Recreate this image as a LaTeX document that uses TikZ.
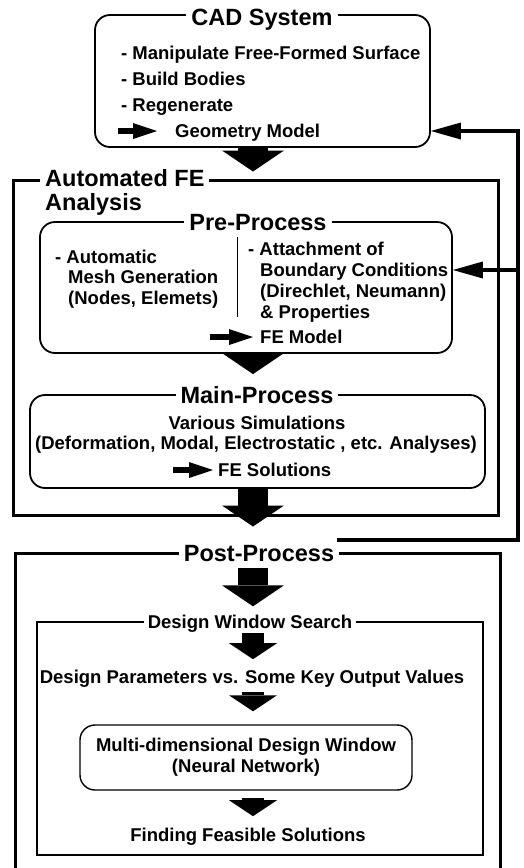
\documentclass[tikz,border=0pt]{standalone}
\usepackage{fontspec}
\setmainfont{Liberation Sans}
\usetikzlibrary{arrows.meta}

\tikzset{
  txt/.style={font=\bfseries\fontsize{18.5}{22}\selectfont, inner sep=0pt, text height=13.2pt, text depth=0pt},
  ttl/.style={font=\bfseries\fontsize{23.5}{28}\selectfont, inner xsep=5pt, inner ysep=0pt, text height=16.8pt, text depth=0pt},
  roundbox/.style={draw, line width=1.8pt, rounded corners=15pt},
  thickbox/.style={draw, line width=3pt},
  thinbox/.style={draw, line width=1.4pt},
  bigarrow/.style={line width=30pt, -{Triangle[length=21pt, width=62pt, line width=0pt]}},
  smallblock/.style={line width=22pt, -{Triangle[length=16pt, width=48pt, line width=0pt]}},
  inarrow/.style={line width=6pt, -{Triangle[length=24pt, width=16pt, line width=0pt]}},
  fbarrow/.style={line width=4.5pt, -{Triangle[length=30pt, width=17pt, line width=0pt]}},
}

\begin{document}
\begin{tikzpicture}[x=1pt,y=-1pt]
  \useasboundingbox (0,0) rectangle (524,868);
  \coordinate (col) at (253,0); % column of the block arrows

  % CAD system
  \node[roundbox, minimum width=335pt, minimum height=132pt] (cad) at (262.5,81) {};
  \node[ttl, fill=white] (cadtitle) at (262,17) {CAD System};
  \foreach \t [count=\i] in {Manipulate Free-Formed Surface, Build Bodies, Regenerate}
    \node[txt, anchor=west] (cad\i) at (121, 27+26*\i) {- \t};
  \node[txt, anchor=west] (geo) at (175,131) {Geometry Model};
  \draw[inarrow] ([xshift=-57pt]geo.west) -- ([xshift=-18pt]geo.west);

  % Automated FE analysis
  \node[thickbox, minimum width=485pt, minimum height=335pt] (fe) at (255.5,347.5) {};
  \node[ttl, fill=white, anchor=west] (fetitle) at (40,178) {Automated FE};
  \node[ttl, anchor=west, inner xsep=0pt] (fetitle2) at (45,202) {Analysis};

  % Pre-process
  \node[roundbox, minimum width=412pt, minimum height=131pt] (pre) at (246,287.5) {};
  \node[ttl, fill=white] (pretitle) at (258,222) {Pre-Process};
  \foreach \t/\x [count=\i] in {- Automatic/55, Mesh Generation/68, {(Nodes, Elemets)}/68}
    \node[txt, anchor=west] (mesh\i) at (\x, 236+20.5*\i) {\t};
  \foreach \t/\x [count=\i] in {- Attachment of/248, Boundary Conditions/260, {(Direchlet, Neumann)}/260, \& Properties/260}
    \node[txt, anchor=west] (bc\i) at (\x, 228+21*\i) {\t};
  \draw[line width=0.8pt] (237,237) -- (237,317); % divider
  \node[txt, anchor=west] (femodel) at (260,337) {FE Model};
  \draw[inarrow] ([xshift=-50pt]femodel.west) -- ([xshift=-7pt]femodel.west);

  % Main-process
  \node[roundbox, minimum width=455pt, minimum height=93pt] (main) at (257.5,441.5) {};
  \node[ttl, fill=white] (maintitle) at (257,395) {Main-Process};
  \node[txt] (sim1) at (257,423) {Various Simulations};
  \node[txt] (sim2) at (256,443) {(Deformation, Modal, Electrostatic , etc. Analyses)};
  \node[txt, anchor=west] (fesol) at (218,470) {FE Solutions};
  \draw[inarrow] ([xshift=-45pt]fesol.west) -- ([xshift=-5pt]fesol.west);

  % Post-process
  \node[thickbox, minimum width=485pt, minimum height=327pt] (post) at (257.5,716.5) {};
  \node[ttl, fill=white] (posttitle) at (259,553) {Post-Process};

  % Design window search
  \node[thinbox, minimum width=446pt, minimum height=233pt] (dws) at (260,738.5) {};
  \node[txt, fill=white, inner xsep=4pt] (dwstitle) at (250,622) {Design Window Search};
  \node[txt] (dp) at (252,677) {Design Parameters vs. Some Key Output Values};
  \node[thinbox, rounded corners=15pt, minimum width=332pt, minimum height=65pt] (multi) at (246,757.5) {};
  \node[txt] (nn1) at (246,745) {Multi-dimensional Design Window};
  \node[txt] (nn2) at (246,766) {(Neural Network)};
  \node[txt] (finding) at (248,835) {Finding Feasible Solutions};

  % block arrows
  \draw[bigarrow, shorten >=7pt] (cad.south -| col) -- (fe.north -| col);
  \draw[bigarrow, shorten >=20pt] (pre.south -| col) -- (main.north -| col);
  \draw[bigarrow, shorten >=25pt] (main.south -| col) -- (post.north -| col);
  \draw[bigarrow, shorten <=6pt, shorten >=15pt] (posttitle.south -| col) -- (dws.north -| col);
  \draw[smallblock, shorten <=4pt, shorten >=11pt] (dwstitle.south -| col) -- (dp.north -| col);
  \draw[smallblock, shorten <=8pt, shorten >=13pt] (dp.south -| col) -- (multi.north -| col);
  \draw[smallblock, shorten <=7pt, shorten >=12pt] (multi.south -| col) -- (finding.north -| col);

  % feedback line
  \coordinate (fbstart) at (337,540);
  \coordinate (fbcorner) at (518,540);
  \draw[fbarrow] (fbstart) -- (fbcorner) |- (cad.east |- geo);
  \draw[fbarrow] (fbcorner |- bc2) -- (pre.east |- bc2);
\end{tikzpicture}
\end{document}
